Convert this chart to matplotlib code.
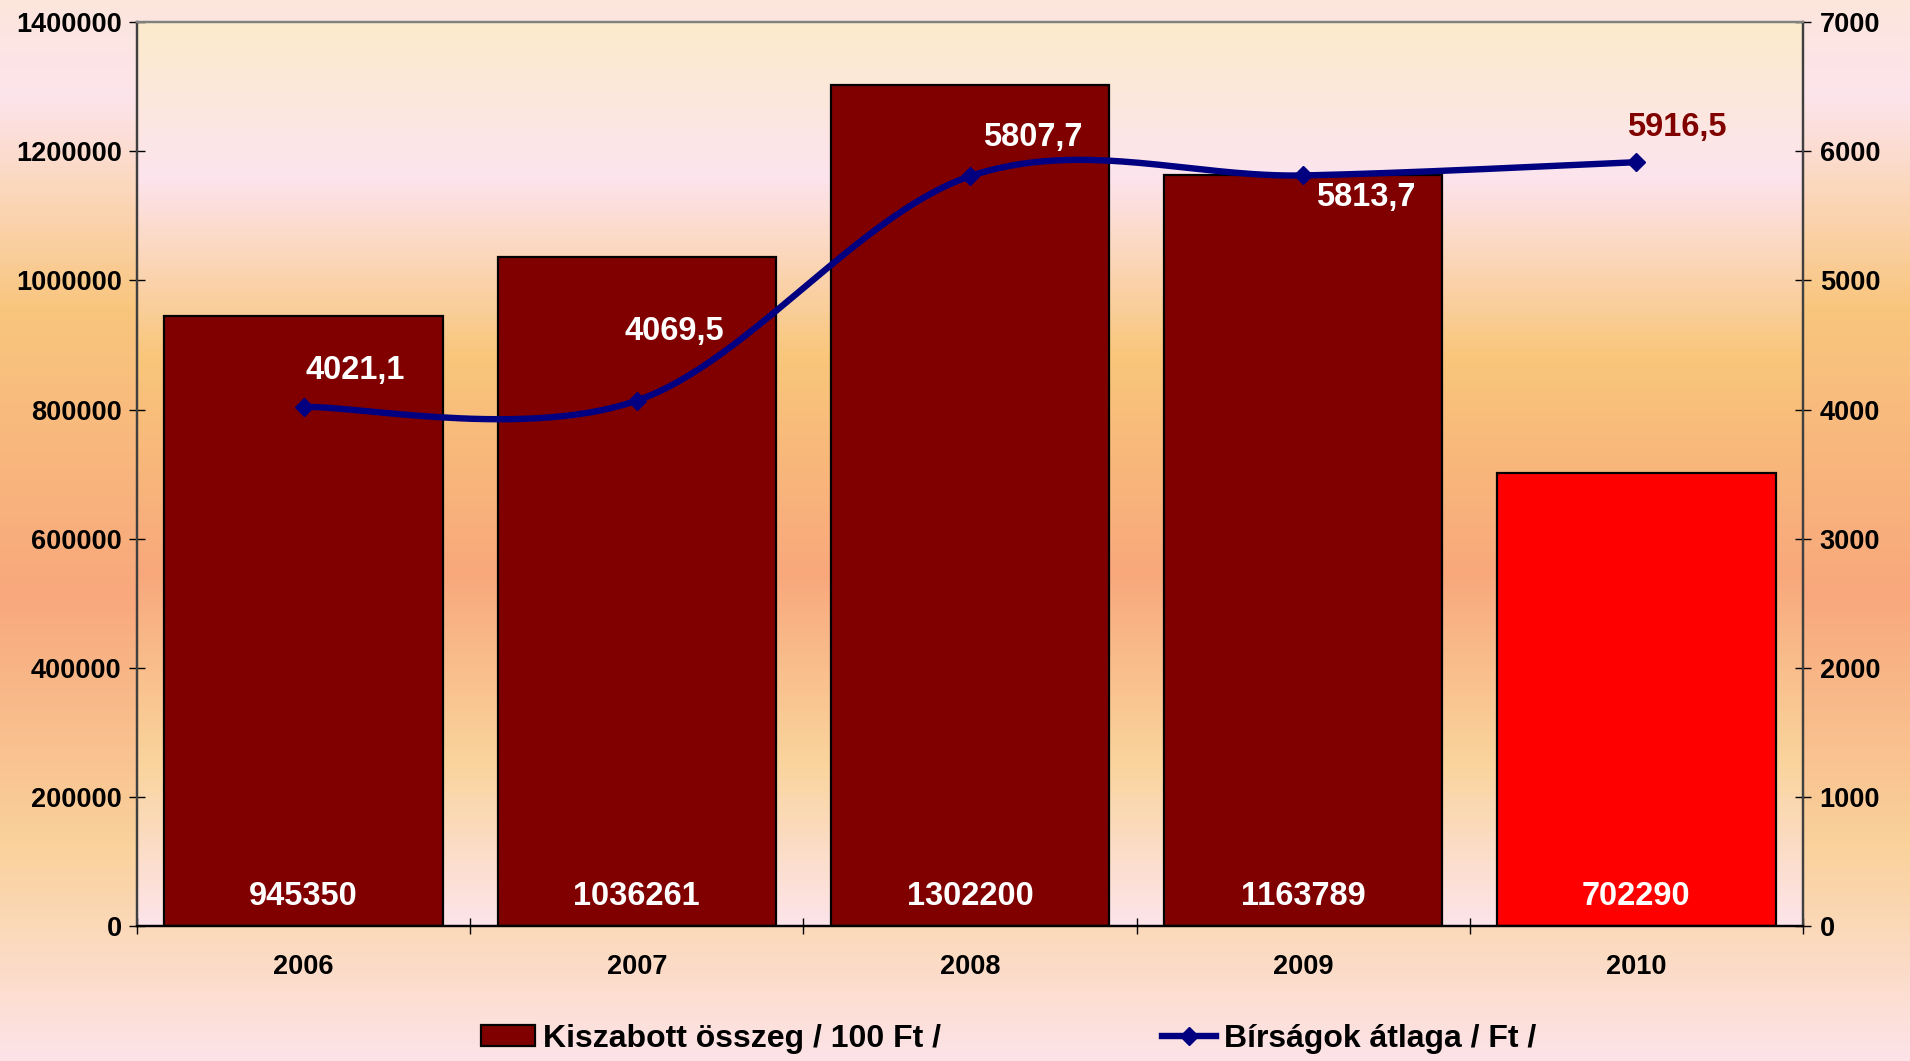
import numpy as np
import matplotlib
matplotlib.use("Agg")
import matplotlib.pyplot as plt
from matplotlib.colors import LinearSegmentedColormap
from matplotlib.patches import Patch
from matplotlib.lines import Line2D

plt.rcParams['font.family'] = ['Liberation Sans', 'DejaVu Sans']
plt.rcParams['font.weight'] = 'bold'

years = ['2006', '2007', '2008', '2009', '2010']
amounts = [945350, 1036261, 1302200, 1163789, 702290]
averages = [4021.1, 4069.5, 5807.7, 5813.7, 5916.5]
bar_colors = ['#800000', '#800000', '#800000', '#800000', '#FF0000']
avg_label_colors = ['white', 'white', 'white', 'white', '#800000']
# where each average label sits relative to its point (points)
avg_label_offsets = [(37, 26), (27, 50), (45, 28), (45, -16), (29, 25)]

left_ticks = [0, 200000, 400000, 600000, 800000, 1000000, 1200000, 1400000]
right_ticks = [0, 1000, 2000, 3000, 4000, 5000, 6000, 7000]

bar_name = 'Kiszabott összeg / 100 Ft /'
line_name = 'Bírságok átlaga / Ft /'


def smooth_curve(xs, ys, n=60):
    # Bezier smoothing like the spreadsheet's "smoothed line"
    xs = np.asarray(xs, float)
    ys = np.asarray(ys, float)
    px = np.concatenate([[xs[0]], xs, [xs[-1]]])
    py = np.concatenate([[ys[0]], ys, [ys[-1]]])
    out_x, out_y = [], []
    t = np.linspace(0, 1, n)
    for i in range(len(xs) - 1):
        p0x, p0y = px[i + 1], py[i + 1]
        p3x, p3y = px[i + 2], py[i + 2]
        c1x = p0x + (px[i + 2] - px[i]) / 6
        c1y = p0y + (py[i + 2] - py[i]) / 6
        c2x = p3x - (px[i + 3] - px[i + 1]) / 6
        c2y = p3y - (py[i + 3] - py[i + 1]) / 6
        bx = (1 - t) ** 3 * p0x + 3 * (1 - t) ** 2 * t * c1x + 3 * (1 - t) * t ** 2 * c2x + t ** 3 * p3x
        by = (1 - t) ** 3 * p0y + 3 * (1 - t) ** 2 * t * c1y + 3 * (1 - t) * t ** 2 * c2y + t ** 3 * p3y
        out_x.extend(bx)
        out_y.extend(by)
    return out_x, out_y


fig = plt.figure(figsize=(19.1, 10.61), dpi=100)

# figure background gradient
fig_cmap = LinearSegmentedColormap.from_list('figbg', [
    (0.0, '#FCE6DC'), (0.09, '#FDE4EC'), (0.29, '#F9C67E'),
    (0.56, '#F8A87C'), (0.80, '#FAD29C'), (1.0, '#FDE3E8')])
bg = fig.add_axes([0, 0, 1, 1], zorder=-1)
bg.imshow(np.linspace(0, 1, 256).reshape(-1, 1), cmap=fig_cmap, aspect='auto',
          extent=[0, 1, 0, 1])
bg.axis('off')

ax = fig.add_axes([0.0717, 0.1272, 0.8723, 0.8518])
ax.set_facecolor('none')

plot_cmap = LinearSegmentedColormap.from_list('plotbg', [
    (0.0, '#FBEBCB'), (0.17, '#FDE4EE'), (0.37, '#F9C67A'),
    (0.61, '#F8A87C'), (0.82, '#FAD49C'), (1.0, '#FDE4EA')])
ax.imshow(np.linspace(0, 1, 256).reshape(-1, 1), cmap=plot_cmap, aspect='auto',
          extent=[0, 1, 0, 1], transform=ax.transAxes, zorder=0)

x = np.arange(len(years))
ax.bar(x, amounts, width=0.835, color=bar_colors, edgecolor='black', linewidth=1.6, zorder=2)
for i, v in enumerate(amounts):
    ax.annotate(str(v), xy=(i, 0), xytext=(0, 21), textcoords='offset points',
                ha='center', va='center', color='white', fontsize=23.5, fontweight='bold', zorder=3)

ax.set_xlim(-0.5, len(years) - 0.5)
ax.set_ylim(0, 1400000)
ax.set_yticks(left_ticks)
ax.set_yticklabels([str(t) for t in left_ticks])
ax.set_xticks(x)
ax.set_xticklabels(years)
ax.set_xticks(np.arange(-0.5, len(years), 1.0), minor=True)
ax.tick_params(axis='x', which='major', length=0, pad=20, labelsize=19.5)
ax.tick_params(axis='x', which='minor', direction='inout', length=11, width=1)
ax.tick_params(axis='y', direction='inout', length=12, width=1, pad=5, labelsize=19.5)

ax2 = ax.twinx()
ax2.set_ylim(0, 7000)
ax2.set_yticks(right_ticks)
ax2.set_yticklabels([str(t) for t in right_ticks])
ax2.tick_params(axis='y', direction='inout', length=12, width=1, pad=6, labelsize=19.5)

cx, cy = smooth_curve(x, averages)
ax2.plot(cx, cy, color='#000080', linewidth=4.6, solid_capstyle='round', zorder=4)
ax2.plot(x, averages, linestyle='none', marker='D', markersize=9, color='#000080', zorder=5)
for i, v in enumerate(averages):
    ax2.annotate(f"{v:.1f}".replace('.', ','), xy=(i, v), xytext=avg_label_offsets[i],
                 textcoords='offset points', ha='center', va='center',
                 color=avg_label_colors[i], fontsize=23.5, fontweight='bold', zorder=6)

for a in (ax, ax2):
    a.spines['left'].set_color('#404040')
    a.spines['right'].set_color('#404040')
    a.spines['top'].set_color('#808080')
    a.spines['bottom'].set_color('black')
    for s in a.spines.values():
        s.set_linewidth(1.6)

handles = [Patch(facecolor='#800000', edgecolor='black', linewidth=1.6),
           Line2D([0], [0], color='#000080', linewidth=4.6, marker='D', markersize=9)]
fig.legend(handles, [bar_name, line_name], loc='center', bbox_to_anchor=(0.528, 0.021),
           ncol=2, frameon=False, handlelength=1.7, handleheight=0.65,
           handletextpad=0.25, columnspacing=6.9, prop={'weight': 'bold', 'size': 23})

fig.savefig('out.png', dpi=100)
